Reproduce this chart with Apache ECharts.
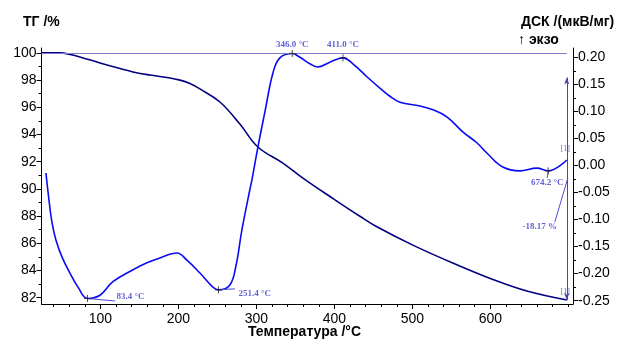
<!DOCTYPE html>
<html>
<head>
<meta charset="utf-8">
<script src="https://cdn.jsdelivr.net/npm/echarts@6/dist/echarts.min.js"></script>
<style>
  html, body { margin: 0; padding: 0; background: #fff; }
  #chart { width: 622px; height: 343px; }
</style>
</head>
<body>
<div id="chart"></div>
<script>
// ТГ кривая (температура °C, %)
const tgTemp = [24.4, 48, 60.9, 73.7, 99.4, 125, 141.7, 163.5, 185.3, 201.9, 214.7, 227.6, 253.2, 278.8, 301.9, 333.9, 359.6, 399.4, 432.7, 454.5, 500.6, 551.9, 603.2, 646.8, 698.1]
const tgValues = [100.0, 100.0, 99.89, 99.7, 99.26, 98.85, 98.6, 98.37, 98.19, 98.0, 97.75, 97.35, 96.39, 94.77, 93.08, 91.9, 90.8, 89.25, 87.99, 87.22, 85.87, 84.55, 83.34, 82.49, 81.83]
// ДСК кривая (температура °C, мкВ/мг)
const dscTemp = [30.1, 34.0, 37.8, 42.9, 50.6, 60.9, 71.2, 83.4, 99.4, 116.0, 141.7, 159.6, 176.3, 198.1, 210.9, 227.6, 244.2, 251.4, 266.0, 273.7, 281.4, 291.7, 294.2, 301.9, 310.9, 321.2, 330.1, 346.0, 355.8, 368.6, 378.8, 394.2, 411.0, 423.7, 441.7, 458.3, 471.2, 484.0, 509.6, 526.3, 544.2, 564.7, 582.7, 595.5, 616.0, 637.8, 659.6, 674.2, 698.1]
const dscValues = [-0.014, -0.064, -0.105, -0.138, -0.169, -0.199, -0.225, -0.246, -0.240, -0.215, -0.193, -0.180, -0.171, -0.162, -0.175, -0.199, -0.225, -0.230, -0.221, -0.186, -0.119, -0.044, -0.027, 0.034, 0.099, 0.171, 0.199, 0.207, 0.200, 0.188, 0.182, 0.191, 0.199, 0.188, 0.164, 0.143, 0.128, 0.117, 0.110, 0.103, 0.090, 0.062, 0.042, 0.023, -0.003, -0.010, -0.005, -0.010, 0.010]
// пики ДСК
const peakTemp = [83.4, 251.4, 346.0, 411.0, 674.2]
const peakDsc = [-0.246, -0.230, 0.207, 0.199, -0.010]
const peakLabels = ['83.4 °C', '251.4 °C', '346.0 °C', '411.0 °C', '674.2 °C']
// потеря массы
const massChange = '-18.17 %'
// оси
const xTicks = [100, 200, 300, 400, 500, 600]
const xMinorTicks = [40, 60, 80, 120, 140, 160, 180, 220, 240, 260, 280, 320, 340, 360, 380, 420, 440, 460, 480, 520, 540, 560, 580, 620, 640, 660, 680, 700]
const tgTicks = [82, 84, 86, 88, 90, 92, 94, 96, 98, 100]
const tgMinorTicks = [83, 85, 87, 89, 91, 93, 95, 97, 99]
const dscTicks = [-0.25, -0.2, -0.15, -0.1, -0.05, 0, 0.05, 0.1, 0.15, 0.2]
const dscMinorTicks = [-0.225, -0.175, -0.125, -0.075, -0.025, 0.025, 0.075, 0.125, 0.175]

const X_MIN = 24.4, X_MAX = 706
const TG_MIN = 81.54, TG_MAX = 100.36
const DSC_MIN = -0.2562, DSC_MAX = 0.2172

const tickFont = { fontFamily: 'Liberation Sans', fontSize: 14, color: '#000' }
const titleFont = 'bold 14px "Liberation Sans"'
const noteColor = '#3a3ad0'
const noteFont = { fontFamily: 'Liberation Serif', fontSize: 9, fontWeight: 'bold', color: noteColor }

// смещения подписей пиков
const peakLabelStyle = [
  { align: 'left', offset: [29, -2] },
  { align: 'left', offset: [20, 4] },
  { align: 'center', offset: [0, -9] },
  { align: 'center', offset: [0, -13] },
  { align: 'center', offset: [-1, 12] }
]

const plusSymbol = 'path://M0,-3L0,3M-3,0L3,0'

const chart = echarts.init(document.getElementById('chart'), null, { renderer: 'canvas' })

const makeX = (ticks, len, showLabel, showLine) => ({
  type: 'value', min: X_MIN, max: X_MAX, position: 'bottom',
  axisLine: { show: showLine, onZero: false, lineStyle: { color: '#000', width: 1 } },
  axisTick: { show: true, length: len, customValues: ticks, lineStyle: { color: '#000' } },
  axisLabel: showLabel ? { show: true, customValues: ticks, margin: 8, ...tickFont } : { show: false },
  splitLine: { show: false }
})
const makeY = (min, max, pos, ticks, len, showLabel, showLine, fmt) => ({
  type: 'value', min: min, max: max, position: pos,
  axisLine: { show: showLine, onZero: false, lineStyle: { color: '#000', width: 1 } },
  axisTick: { show: true, length: len, customValues: ticks, lineStyle: { color: '#000' } },
  axisLabel: showLabel ? { show: true, customValues: ticks, margin: 5, formatter: fmt, ...tickFont } : { show: false },
  splitLine: { show: false }
})

const option = {
  animation: false,
  grid: { left: 41.5, right: 49, top: 48, bottom: 39 },
  xAxis: [
    makeX(xTicks, 5, true, true),
    makeX(xMinorTicks, 3, false, false)
  ],
  yAxis: [
    makeY(TG_MIN, TG_MAX, 'left', tgTicks, 5, true, true, (v) => String(Math.round(v))),
    makeY(TG_MIN, TG_MAX, 'left', tgMinorTicks, 3, false, false),
    makeY(DSC_MIN, DSC_MAX, 'right', dscTicks, 5, true, true, (v) => v.toFixed(2)),
    makeY(DSC_MIN, DSC_MAX, 'right', dscMinorTicks, 3, false, false)
  ],
  graphic: [
    { type: 'text', left: 23, top: 15, style: { text: 'ТГ /%', font: titleFont, fill: '#000' } },
    { type: 'text', left: 521, top: 15, style: { text: 'ДСК /(мкВ/мг)', font: titleFont, fill: '#000' } },
    { type: 'text', left: 518, top: 33, style: { text: '↑ экзо', font: titleFont, fill: '#000' } },
    { type: 'text', left: 248, top: 325, style: { text: 'Температура /°C', font: titleFont, fill: '#000' } }
  ],
  series: [
    {
      name: 'ТГ', type: 'line', xAxisIndex: 0, yAxisIndex: 0,
      data: tgTemp.map((t, i) => [t, tgValues[i]]),
      smooth: 0.4, showSymbol: false,
      lineStyle: { color: '#000080', width: 1.6 },
      markLine: {
        silent: true, symbol: 'none',
        label: { show: false },
        data: [
          [{ coord: [tgTemp[0], 100], lineStyle: { color: '#7a7ac8', width: 1, type: 'solid' } }, { coord: [698, 100] }],
          [{ coord: [698, 98.2], symbol: 'arrow', symbolSize: [4, 7], lineStyle: { color: '#4646b4', width: 1, type: 'solid' } },
           { coord: [698, tgValues[tgValues.length - 1]], symbol: 'arrow', symbolSize: [4, 7] }]
        ]
      }
    },
    {
      name: 'ДСК', type: 'line', xAxisIndex: 0, yAxisIndex: 2,
      data: dscTemp.map((t, i) => [t, dscValues[i]]),
      smooth: 0.4, showSymbol: false,
      lineStyle: { color: '#0a0af5', width: 1.6 },
      markLine: {
        silent: true, symbol: 'none',
        label: { show: false },
        lineStyle: { color: '#4a4ae0', width: 1, type: 'solid' },
        data: [
          [{ coord: [peakTemp[0], peakDsc[0]] }, { coord: [118.6, -0.2506] }],
          [{ coord: [peakTemp[1], peakDsc[1]] }, { coord: [272.4, -0.2282] }],
          [{ coord: [peakTemp[4], peakDsc[4]] }, { coord: [673, -0.023] }],
          [{ coord: [682.7, -0.1045] }, { coord: [699.4, -0.0232] }]
        ]
      }
    },
    {
      name: 'пики', type: 'scatter', xAxisIndex: 0, yAxisIndex: 2,
      data: peakTemp.map((t, i) => ({
        value: [t, peakDsc[i]],
        label: {
          show: true, formatter: peakLabels[i], position: 'inside',
          align: peakLabelStyle[i].align, verticalAlign: 'middle',
          offset: peakLabelStyle[i].offset, ...noteFont
        }
      })),
      symbol: plusSymbol, symbolSize: 7,
      itemStyle: { color: 'none', borderColor: '#222', borderWidth: 1 },
      z: 5
    },
    {
      name: 'метки', type: 'scatter', xAxisIndex: 0, yAxisIndex: 2,
      symbolSize: 1, itemStyle: { color: 'rgba(0,0,0,0)' },
      data: [
        { value: [696, 0.03], label: { show: true, formatter: '[1]', position: 'inside', fontFamily: 'Liberation Serif', fontSize: 8, color: noteColor } },
        { value: [696, -0.2335], label: { show: true, formatter: '[1]', position: 'inside', fontFamily: 'Liberation Serif', fontSize: 8, color: noteColor } },
        { value: [663.5, -0.1136], label: { show: true, formatter: massChange, position: 'inside', ...noteFont } }
      ],
      z: 5
    }
  ]
}
chart.setOption(option)
</script>
</body>
</html>
